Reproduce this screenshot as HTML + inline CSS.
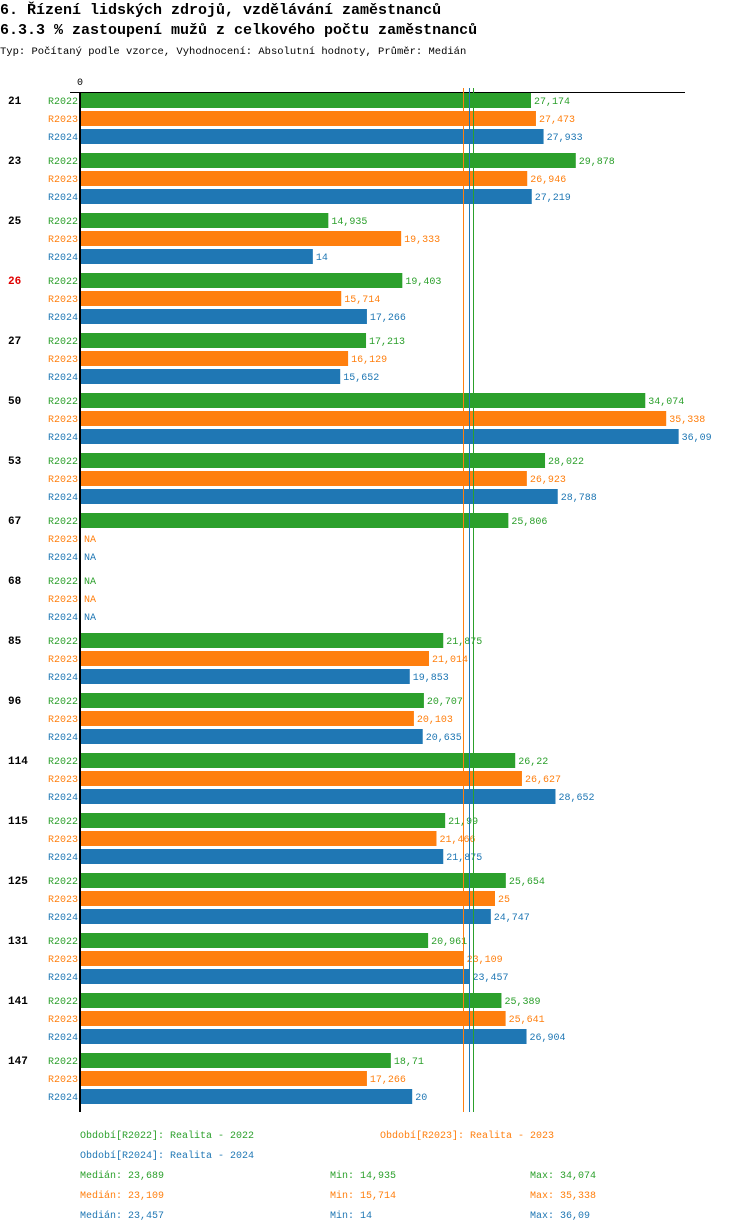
<!DOCTYPE html>
<html><head><meta charset="utf-8"><style>
body{margin:0;background:#fff;width:750px;height:1232px;overflow:hidden}
svg{display:block}
text{font-family:"Liberation Mono",monospace}
</style></head><body>
<svg id="chart" width="750" height="1232" xmlns="http://www.w3.org/2000/svg">
<text x="0" y="14" font-size="15" font-weight="bold">6. Řízení lidských zdrojů, vzdělávání zaměstnanců</text>
<text x="0" y="34" font-size="15" font-weight="bold">6.3.3 % zastoupení mužů z celkového počtu zaměstnanců</text>
<text x="0" y="54" font-size="10.5">Typ: Počítaný podle vzorce, Vyhodnocení: Absolutní hodnoty, Průměr: Medián</text>
<text x="77" y="85" font-size="10">0</text>
<g id="bars"></g>
<line x1="70" y1="92.5" x2="685" y2="92.5" stroke="#000" stroke-width="1"/>
<line x1="80" y1="92" x2="80" y2="1112" stroke="#000" stroke-width="2"/>
<g id="medians"></g>
<g id="legend"></g>
</svg>
<script>
const categories=["21","23","25","26","27","50","53","67","68","85","96","114","115","125","131","141","147"];
const seriesNames=["R2022","R2023","R2024"];
const r2022=[27.174,29.878,14.935,19.403,17.213,34.074,28.022,25.806,null,21.875,20.707,26.22,21.99,25.654,20.961,25.389,18.71];
const r2023=[27.473,26.946,19.333,15.714,16.129,35.338,26.923,null,null,21.014,20.103,26.627,21.466,25,23.109,25.641,17.266];
const r2024=[27.933,27.219,14,17.266,15.652,36.09,28.788,null,null,19.853,20.635,28.652,21.875,24.747,23.457,26.904,20];
const medians=[23.689,23.109,23.457];
const mins=["14,935","15,714","14"];
const maxs=["34,074","35,338","36,09"];
const colors=["#2ca02c","#ff7f0e","#1f77b4"];
const NS="http://www.w3.org/2000/svg";
const x0=81,scale=16.56;
const xs=v=>x0+v*scale;
const series=[r2022,r2023,r2024];
const fmt=v=>String(v).replace('.',',');
function mk(tag,attrs,parent){const e=document.createElementNS(NS,tag);for(const k in attrs)e.setAttribute(k,attrs[k]);parent.appendChild(e);return e;}
const bars=document.getElementById('bars');
categories.forEach((c,i)=>{
  const top=93+60*i;
  const t=mk('text',{x:8,y:top+11,'font-size':11,'font-weight':'bold',fill:c==="26"?"#e00000":"#000"},bars);
  
  
  t.textContent=c;
  series.forEach((s,j)=>{
    const y=top+18*j;
    const l=mk('text',{x:78,y:y+11,'font-size':10,'text-anchor':'end',fill:colors[j]},bars);
    
    
    l.textContent=seriesNames[j];
    const v=s[i];
    let endX=x0;
    if(v!==null){
      const r=mk('rect',{x:x0,y:y,width:xs(v)-x0,height:15,fill:colors[j]},bars);
      
      
      endX=xs(v);
    }
    const vt=mk('text',{x:endX+3,y:y+11,'font-size':10,fill:colors[j]},bars);
    
    
    vt.textContent=v===null?"NA":fmt(v);
  });
});
const md=document.getElementById('medians');
medians.forEach((m,j)=>{
  const mx=Math.floor(xs(m))+0.5;
  const ln=mk('line',{x1:mx,y1:88,x2:mx,y2:1112,stroke:colors[j],'stroke-width':1},md);
  
  
});
const lg=document.getElementById('legend');
const legItems=[[80,1138,0,"Období[R2022]: Realita - 2022"],[380,1138,1,"Období[R2023]: Realita - 2023"],[80,1158,2,"Období[R2024]: Realita - 2024"]];
legItems.forEach(it=>{
  const t=mk('text',{x:it[0],y:it[1],'font-size':10,fill:colors[it[2]]},lg);
  
  
  t.textContent=it[3];
});
[0,1,2].forEach(j=>{
  const y=1178+20*j;
  const a=mk('text',{x:80,y:y,'font-size':10,fill:colors[j]},lg);
  
  
  a.textContent="Medián: "+fmt(medians[j]);
  const b=mk('text',{x:330,y:y,'font-size':10,fill:colors[j]},lg);
  
  
  b.textContent="Min: "+mins[j];
  const c=mk('text',{x:530,y:y,'font-size':10,fill:colors[j]},lg);
  
  
  c.textContent="Max: "+maxs[j];
});
</script>
</body></html>
